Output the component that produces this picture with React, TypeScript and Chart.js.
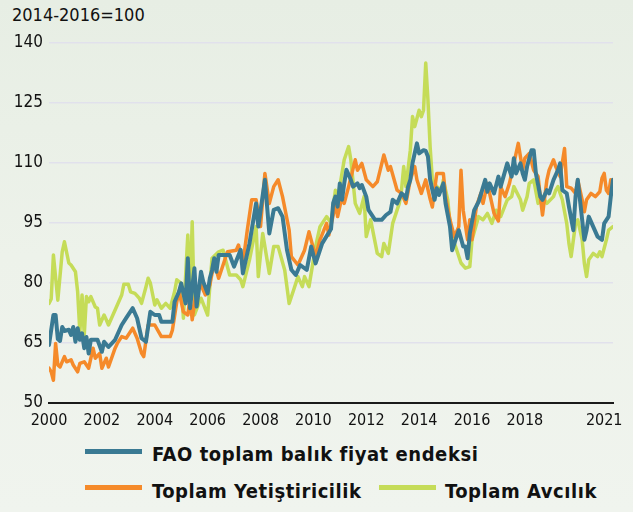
import React, { useEffect, useRef } from "react";
import { Chart, registerables } from "chart.js";

Chart.register(...registerables);

// Month index: 0 = January 2000
const blueMonths = [0,2,3,4,5,6,7,9,10,11,12,13,14,15,16,17,18,19,22,24,25,27,30,33,35,38,40,42,44,46,48,50,51,56,57,59,60,62,63,64,66,67,68,69,70,72,73,74,75,76,77,82,84,87,88,91,94,95,98,100,102,104,106,108,110,112,114,117,119,121,124,128,129,130,131,132,133,134,135,137,138,140,141,142,144,145,148,151,153,155,156,158,160,161,162,163,164,165,167,168,170,171,172,173,175,176,177,179,180,182,183,185,186,188,189,190,191,193,195,198,199,200,202,204,205,208,210,211,212,214,215,216,217,219,220,221,223,224,226,227,229,231,232,233,235,236,238,239,240,241,243,244,245,247,249,251,252,254,255,256];
const blueValues = [64.5,72,72,66,65.5,69,68,68.3,67,69,65.3,68.7,65.8,67.4,63.7,66.5,62.4,65.8,65.8,62.8,65.3,64,65.8,69.5,71.2,73.7,71.2,66.2,65.3,72.8,72,72,70.3,70.3,75.3,77.8,79.9,74.9,86.2,73.7,83.7,74.1,78.2,82.8,80.3,77.4,81.2,83.2,86.2,82.8,87,87,84.1,88.3,82.4,89.9,99.9,94.1,105.8,92.4,98.3,98.7,96.6,88.3,83.3,82,84.5,83.3,89.1,84.9,89.9,93.5,100,101.6,99.1,104.9,100.8,104.9,108.3,105.8,104.1,104.9,103.7,104.5,101.6,98.3,95.8,95.8,97,97.8,100.8,99.9,102.4,102,101,104.1,105.8,110,114.9,112.4,113.2,113,111.6,105.8,100.8,103.7,102,104.9,99.9,94.1,88.2,91.6,93.2,89.1,89.1,86.2,92.4,98.2,100.3,105.8,102.8,104.9,102.4,106.6,104.1,109.9,106.6,111.2,107.4,109.9,107.4,105.8,109.1,113.2,113.2,107.4,101.6,100.8,103.2,102.4,105.8,108.2,109.9,103.2,102.4,99.1,93.2,101.6,105.8,100.8,90.8,93.2,96.6,94.1,91.6,90.8,94.9,96.6,101.6,105.8];

const orangeMonths = [0,1,2,3,4,5,7,8,10,11,13,14,16,18,19,20,21,23,24,26,27,30,31,33,35,38,40,42,43,45,48,51,55,56,58,59,61,63,64,65,67,69,71,73,75,77,78,81,85,86,88,90,92,94,96,98,100,102,104,106,109,110,113,116,118,121,123,126,127,129,130,131,133,134,136,139,140,142,144,147,149,152,154,155,158,160,162,164,166,167,169,171,173,174,176,179,180,182,184,186,187,188,190,191,192,194,196,197,199,201,202,204,205,207,209,210,213,215,216,218,220,222,223,224,226,227,229,230,232,234,235,237,239,240,242,243,244,246,248,250,251,252,253,254,255,256];
const orangeValues = [58.7,57.8,55.7,64.9,59.5,59,61.6,60.3,60.8,59.5,57.8,59.9,60.3,58.7,61.2,63.7,61.2,62.4,58.7,61.2,59,63.7,64.9,66.6,66.2,68.7,66.2,62.5,61.6,69.5,69.5,66.6,66.6,68.2,75.3,78,72.8,72,76.2,70.8,78.7,79.5,77,79.5,85.3,81.2,82.8,87.8,88.2,89.5,84.9,93.2,100.8,100.8,94.1,107.4,99.9,104.1,105.8,101.6,93.2,86.6,84.5,88.2,92.8,86.6,90.8,94.9,92,97,99.9,96.6,101.6,99.9,104.1,110.8,108.2,109.9,105.8,104.1,105.3,112,108.2,109.1,103.2,102.4,99.9,105.8,109.1,105.8,102.4,105.8,101,99,107.4,107.4,101.6,95.8,91.6,94.1,108.2,98.2,90.8,95.8,90.8,99.1,102.4,99.9,104.9,99.9,97.4,95.5,104.1,101.6,104.9,107.4,114.9,108.2,111.2,112.4,108.2,106.6,101.6,97,105.8,108.2,110.8,109.1,106.6,113.6,104.1,103.7,102.4,105.8,100.8,97.8,100.8,102.4,101.6,102.8,106.2,107.4,103.2,102.4,105.8,104.9];

const greenMonths = [0,1,2,4,6,7,9,10,12,13,14,15,16,17,18,19,21,22,23,25,26,27,29,31,33,34,36,37,39,41,42,44,45,46,48,49,51,53,55,57,58,60,61,63,64,65,66,68,69,72,74,77,79,82,85,87,88,91,94,95,97,100,102,104,107,109,111,113,115,116,118,121,123,126,128,130,131,134,136,137,139,141,143,144,146,149,151,152,154,156,159,160,161,162,164,165,166,168,169,170,171,172,173,174,176,178,179,181,182,184,187,189,191,192,195,197,199,201,203,205,208,210,211,214,215,217,218,220,222,224,226,229,230,231,233,235,236,237,239,240,242,243,244,245,247,249,250,251,253,254,256];
const greenValues = [74.9,76,87,75.7,87.8,90.3,85,84.5,82.8,77.8,67.8,77,67,76.6,75.3,76.6,74,73.7,69.5,72,70.8,69.5,72,74.5,77,79.7,79.7,77.8,77.4,76.2,74.9,79,81.2,80,74.5,75.8,73.7,74.9,73.7,77.8,80.8,79.9,71.2,92,77,95.3,72,74.9,76.2,72,86.2,87.8,88.2,82,82,80.8,79.1,85.8,94.1,81.6,92.4,82.4,89.1,89.1,83.2,74.9,78.2,81.6,79.1,81.6,79.1,89.1,94.1,96.6,95,103.2,100.8,110.8,114.1,110.8,99.9,97.4,101.6,91.6,95.8,87.4,86.6,89.9,87.4,94.9,99.9,103.2,109.1,104.1,113.2,121.6,119.1,123.2,121.6,123.2,135,125.8,114,105.8,104.1,103.2,105.8,100.8,94.9,90,85,83.7,84.1,90.8,96.6,95.8,97.4,94.9,98.2,96.6,100.8,101.6,104.1,100.8,98.2,101.6,104.9,105.8,99.9,101.6,99.9,101.6,103.2,104.1,100.8,94.9,89.9,86.6,94.9,95.8,90.8,84.9,81.6,85.8,87.4,86.6,87.8,86.6,90.8,93.2,94.1];

const xTickYears = [2000, 2002, 2004, 2006, 2008, 2010, 2012, 2014, 2016, 2018, 2021];
const xTickLabels = ["2000", "2002", "2004", "2006", "2008", "2010", "2012", "2014", "2016", "2018", "2021"];
const yTicks = [50, 65, 80, 95, 110, 125, 140];

const seriesNames = ["FAO toplam balık fiyat endeksi", "Toplam Yetiştiricilik", "Toplam Avcılık"];
const unitLabel = "2014-2016=100";

const BLUE = "#3a7a93";
const ORANGE = "#f58a2a";
const GREEN = "#c5dc58";
const FONT = "'DejaVu Sans Condensed', 'DejaVu Sans', sans-serif";

const toPoints = (months: number[], values: number[]) =>
  months.map((m, i) => ({ x: m, y: values[i] }));

export default function App() {
  const canvasRef = useRef<HTMLCanvasElement | null>(null);

  useEffect(() => {
    if (!canvasRef.current) return;
    const tickMonths = xTickYears.map((y) => (y - 2000) * 12);
    const chart = new Chart(canvasRef.current, {
      type: "line",
      data: {
        datasets: [
          {
            label: seriesNames[0],
            data: toPoints(blueMonths, blueValues),
            borderColor: BLUE,
            borderWidth: 4,
            pointRadius: 0,
            order: 0,
          },
          {
            label: seriesNames[1],
            data: toPoints(orangeMonths, orangeValues),
            borderColor: ORANGE,
            borderWidth: 3.5,
            pointRadius: 0,
            order: 1,
          },
          {
            label: seriesNames[2],
            data: toPoints(greenMonths, greenValues),
            borderColor: GREEN,
            borderWidth: 3.5,
            pointRadius: 0,
            order: 2,
          },
        ],
      },
      options: {
        responsive: false,
        animation: false,
        events: [],
        layout: { padding: { top: 43, right: 20, bottom: 0, left: 0 } },
        elements: { line: { tension: 0, borderJoinStyle: "round", borderCapStyle: "round" } },
        plugins: { legend: { display: false }, tooltip: { enabled: false } },
        scales: {
          x: {
            type: "linear",
            min: 0,
            max: 256,
            grid: { display: false, drawTicks: false },
            border: { display: true, color: "#1a1a1a", width: 2 },
            afterBuildTicks: (axis: any) => {
              axis.ticks = tickMonths.map((v) => ({ value: v }));
            },
            afterFit: (scale: any) => {
              scale.height = 37;
            },
            ticks: {
              autoSkip: false,
              maxRotation: 0,
              padding: 8,
              color: "#111",
              font: { family: FONT, size: 16 },
              callback: (value: any) => {
                const i = tickMonths.indexOf(Number(value));
                return i >= 0 ? xTickLabels[i] : "";
              },
            },
          },
          y: {
            min: 50,
            max: 140,
            afterBuildTicks: (axis: any) => {
              axis.ticks = yTicks.map((v) => ({ value: v }));
            },
            afterFit: (scale: any) => {
              scale.width = 49;
            },
            grid: { color: "#e1e1ec", lineWidth: 1.5, drawTicks: false },
            border: { display: false },
            ticks: {
              padding: 6,
              color: "#111",
              font: { family: FONT, size: 17 },
            },
          },
        },
      },
    });
    return () => chart.destroy();
  }, []);

  const legendText: React.CSSProperties = {
    position: "absolute",
    fontFamily: FONT,
    fontWeight: "bold",
    fontSize: 20,
    letterSpacing: 0.55,
    color: "#111",
    whiteSpace: "nowrap",
    lineHeight: "normal",
  };
  const swatch = (color: string, left: number, top: number): React.CSSProperties => ({
    position: "absolute",
    left,
    top,
    width: 57,
    height: 4.5,
    background: color,
  });

  return (
    <div
      style={{
        position: "absolute",
        left: 0,
        top: 0,
        width: 633,
        height: 512,
        overflow: "hidden",
        background: "linear-gradient(180deg, #e7eee4 0%, #edf2ea 50%, #f0f4ee 100%)",
      }}
    >
      <div
        style={{
          position: "absolute",
          left: 12,
          top: 4,
          fontFamily: FONT,
          fontSize: 18,
          color: "#111",
          whiteSpace: "nowrap",
        }}
      >
        {unitLabel}
      </div>
      <canvas
        ref={canvasRef}
        width={633}
        height={440}
        style={{ position: "absolute", left: 0, top: 0, width: 633, height: 440 }}
      />
      <div style={swatch(BLUE, 85, 449)} />
      <div style={{ ...legendText, left: 152, top: 442 }}>{seriesNames[0]}</div>
      <div style={swatch(ORANGE, 85, 485)} />
      <div style={{ ...legendText, left: 152, top: 479 }}>{seriesNames[1]}</div>
      <div style={swatch(GREEN, 379, 485)} />
      <div style={{ ...legendText, left: 445, top: 479 }}>{seriesNames[2]}</div>
    </div>
  );
}
